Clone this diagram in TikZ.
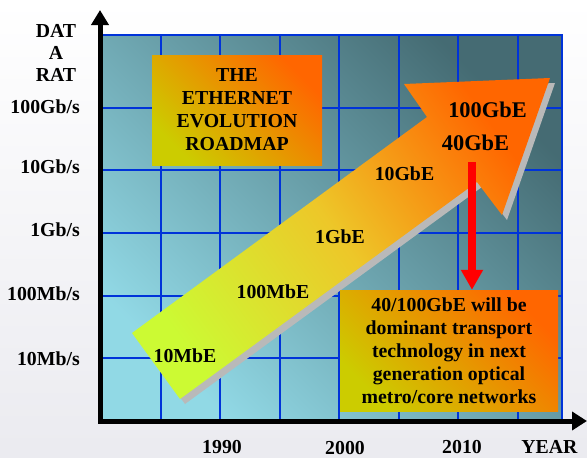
\documentclass[tikz,border=0pt]{standalone}
\usepackage{fontspec}
\setmainfont{Liberation Serif}
\usepackage{tikz}
\usetikzlibrary{arrows.meta}
\usetikzlibrary{positioning}
\definecolor{mblue}{rgb}{0.0, 0.2, 0.85}
\definecolor{mlime}{rgb}{0.80, 0.98, 0.20}
\definecolor{mgold}{rgb}{0.93, 0.78, 0.16}
\definecolor{morange}{rgb}{1.0, 0.4, 0.0}
\definecolor{molive}{rgb}{0.80, 0.80, 0.0}
\definecolor{mcyan}{rgb}{0.57, 0.85, 0.90}
\definecolor{mslate}{rgb}{0.27, 0.42, 0.45}
\definecolor{mpaper}{rgb}{0.92, 0.92, 0.94}
\tikzset{
  lbl/.style={font=\fontsize{19.8}{23}\selectfont\bfseries, inner sep=0pt},
  biglbl/.style={font=\fontsize{22.4}{26}\selectfont\bfseries, inner sep=0pt},
  box/.style={lbl, align=center, bottom color=molive, top color=morange, shading angle=-45},
  grid/.style={draw=mblue, line width=2pt},
  axis/.style={line width=5pt, {Triangle[width=17pt,length=15pt]}-{Triangle[width=18pt,length=15pt]}},
  redarr/.style={draw=red, line width=8pt, -{Triangle[width=21pt,length=20pt]}}
}
\begin{document}
\begin{tikzpicture}[x=1pt, y=-1pt]

    \useasboundingbox (0, 0) rectangle (587, 458);
    \shade [top color=white, bottom color=mpaper] (0, 0) rectangle (587, 458);

    \shade [bottom color=mcyan, top color=mslate, shading angle=-45] (102, 35) rectangle (562, 420);
    \foreach \x in {161, 220, 280, 339, 399, 458, 518}
      \draw [grid] (\x, 35) -- (\x, 424);
    \foreach \y in {108, 170, 233, 296, 358}
      \draw [grid] (100, \y) -- (562, \y);
    \draw [grid] (100, 35) -- (562, 35) -- (562, 420);

    \fill [gray!55, shift={(5, 5)}] (132, 333) -- (427, 117) -- (404, 84) -- (550, 78) -- (502, 215) -- (477, 182) -- (180, 399) -- cycle;
    \shade [bottom color=mlime, top color=morange, middle color=mgold, shading angle=-54] (132, 333) -- (427, 117) -- (404, 84) -- (550, 78) -- (502, 215) -- (477, 182) -- (180, 399) -- cycle;

    \node [box, minimum width=170pt, minimum height=110pt] (title) at (237, 110) {THE\\ETHERNET\\EVOLUTION\\ROADMAP};
    \node [box, minimum width=218pt, minimum height=121pt] (note) at (449, 350.5) {40/100GbE will be\\dominant transport\\technology in next\\generation optical\\metro/core networks};

    \node [lbl, anchor=base] (e10m) at (185, 362) {10MbE};
    \node [lbl, anchor=base] (e100m) at (273, 298) {100MbE};
    \node [lbl, anchor=base] (e1g) at (340, 243) {1GbE};
    \node [lbl, anchor=base] (e10g) at (404.5, 180) {10GbE};
    \node [biglbl, anchor=base] (e40g) at (475.5, 150) {40GbE};
    \node [biglbl, anchor=base] (e100g) at (487.5, 117) {100GbE};

    \coordinate (rtop) at (472, 162);
    \draw [redarr] (rtop) -- (rtop |- note.north);

    \coordinate (ytop) at (100, 10);
    \coordinate (origin) at (100, 421);
    \coordinate (xend) at (587, 421);
    \draw [axis] (ytop) -- (origin) -- (xend);

    \node [lbl, align=center, font=\fontsize{19.8}{22}\selectfont\bfseries] (ylab) at (56, 52.5) {DAT\\A\\RAT};
    \node [lbl, anchor=base east] (r100g) at (80, 113) {100Gb/s};
    \node [lbl, anchor=base east] (r10g) at (80, 173) {10Gb/s};
    \node [lbl, anchor=base east] (r1g) at (80, 236) {1Gb/s};
    \node [lbl, anchor=base east] (r100m) at (80, 300) {100Mb/s};
    \node [lbl, anchor=base east] (r10m) at (80, 365) {10Mb/s};

    \node [lbl, anchor=base] (y1990) at (222, 453) {1990};
    \node [lbl, anchor=base] (y2000) at (345, 454.5) {2000};
    \node [lbl, anchor=base] (y2010) at (462, 453) {2010};
    \node [lbl, anchor=base] (xlab) at (549.5, 453) {YEAR};
  \end{tikzpicture}
\end{document}
